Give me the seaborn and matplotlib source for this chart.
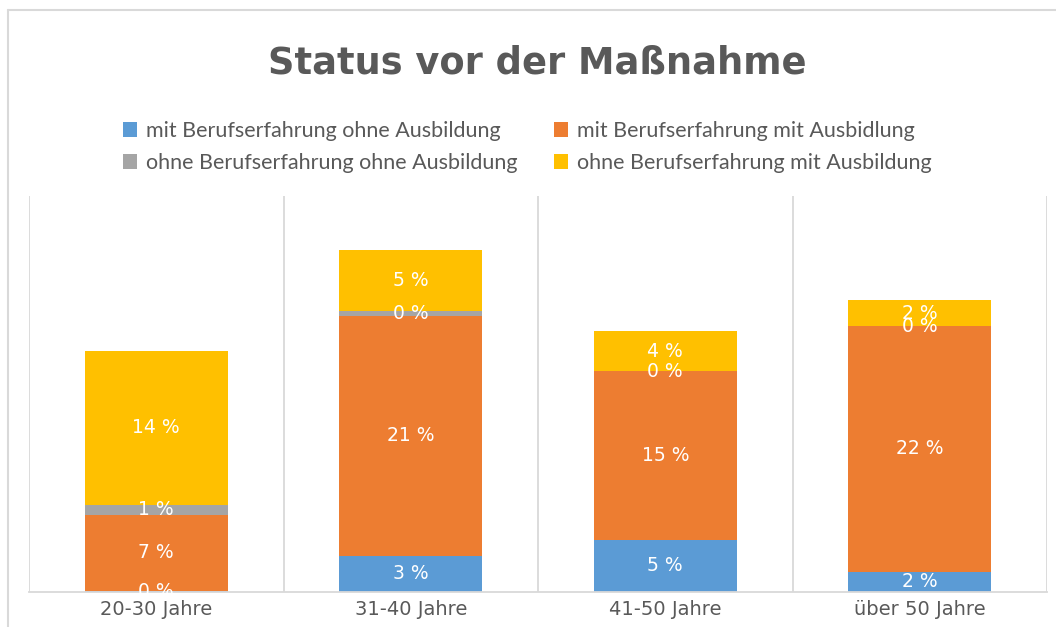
import matplotlib
matplotlib.use("Agg")
import matplotlib.pyplot as plt
import seaborn as sns
import numpy as np
from matplotlib.patches import Patch
from matplotlib.lines import Line2D

# ---- data (percent) ----
categories = ["20-30 Jahre", "31-40 Jahre", "41-50 Jahre", "über 50 Jahre"]
series_names = [
    "mit Berufserfahrung ohne Ausbildung",
    "mit Berufserfahrung mit Ausbidlung",
    "ohne Berufserfahrung ohne Ausbildung",
    "ohne Berufserfahrung mit Ausbildung",
]
mit_ohne = [0.1, 3.2, 4.6, 1.8]
mit_mit = [6.7, 21.2, 14.9, 21.7]
ohne_ohne = [0.9, 0.4, 0.0, 0.0]
ohne_mit = [13.6, 5.4, 3.6, 2.3]
series_values = [mit_ohne, mit_mit, ohne_ohne, ohne_mit]
colors = ["#5B9BD5", "#ED7D31", "#A5A5A5", "#FFC000"]

sns.set_style("white")
plt.rcParams["font.family"] = ["Lato", "DejaVu Sans"]

W, H = 1056, 627
fig = plt.figure(figsize=(W / 100, H / 100), dpi=100)
ax = fig.add_axes([29 / W, 35 / H, 1018 / W, 396 / H])

bottom = np.zeros(len(categories))
for name, vals, col in zip(series_names, series_values, colors):
    sns.barplot(x=categories, y=vals, bottom=bottom.copy(), color=col,
                saturation=1, width=0.56, errorbar=None, ax=ax,
                linewidth=0, zorder=2)
    cont = ax.containers[-1]
    ax.bar_label(cont, labels=[f"{round(v)} %" for v in vals],
                 label_type="center", color="white", fontsize=13.5,
                 family=["DejaVu Sans"], zorder=5)
    bottom += np.array(vals)

ax.set_ylim(0, 35)
ax.set_xlim(-0.5, len(categories) - 0.5)
ax.set_yticks([])
ax.set_xlabel("")
ax.set_ylabel("")
ax.set_xticks(np.arange(len(categories) + 1) - 0.5, minor=True)
ax.tick_params(axis="x", which="both", length=0, pad=6,
               labelsize=14, labelcolor="#595959")
for lab in ax.get_xticklabels():
    lab.set_family(["DejaVu Sans"])
ax.grid(axis="x", which="minor", color="#d9d9d9", lw=1.3)
ax.grid(axis="x", which="major", visible=False)
ax.grid(axis="y", visible=False)
ax.set_axisbelow(True)
for s in ["top", "left", "right"]:
    ax.spines[s].set_visible(False)
ax.spines["bottom"].set_color("#d9d9d9")
ax.spines["bottom"].set_linewidth(1.3)

# chart frame (partially cropped in reference)
fig.add_artist(Line2D([7.5 / W, 7.5 / W], [0, 1 - 9.5 / H],
                      transform=fig.transFigure, color="#d9d9d9", lw=1.5))
fig.add_artist(Line2D([7.5 / W, 1], [1 - 9.5 / H, 1 - 9.5 / H],
                      transform=fig.transFigure, color="#d9d9d9", lw=1.5))

fig.text(537 / W, 1 - 63 / H, "Status vor der Maßnahme", ha="center",
         va="center", fontsize=26.5, fontweight="bold", color="#595959",
         family=["DejaVu Sans"])

order = [0, 2, 1, 3]
handles = [Patch(facecolor=colors[i], edgecolor="none") for i in order]
labels = [series_names[i] for i in order]
fig.legend(handles, labels, ncol=2, loc="center left",
           bbox_to_anchor=(123 / W, 1 - 147 / H), frameon=False,
           handlelength=0.65, handleheight=0.65, handletextpad=0.42,
           columnspacing=1.7, labelspacing=0.55, fontsize=15.5,
           labelcolor="#595959", borderpad=0, borderaxespad=0)

fig.savefig("out.png", dpi=100)
